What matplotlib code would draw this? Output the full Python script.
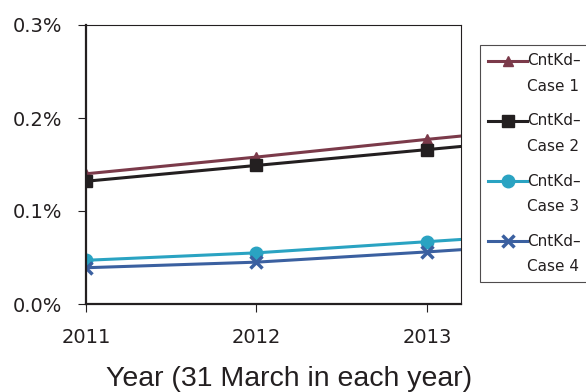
import matplotlib
matplotlib.use("Agg")
import matplotlib.pyplot as plt
import numpy as np
from matplotlib.legend_handler import HandlerLine2D

# Years (31 March) and the four CntKd cases, in percent
years = [2011, 2012, 2013, 2014]
case1 = [0.140, 0.158, 0.177, 0.195]
case2 = [0.132, 0.149, 0.166, 0.183]
case3 = [0.047, 0.055, 0.067, 0.079]
case4 = [0.039, 0.045, 0.056, 0.068]
labels = ["CntKd–\nCase 1", "CntKd–\nCase 2", "CntKd–\nCase 3", "CntKd–\nCase 4"]

ink = "#231F20"


class TopLine(HandlerLine2D):
    # put the legend line level with the first line of a two-line label
    def __init__(self, lift, **kw):
        super().__init__(**kw)
        self.lift = lift

    def create_artists(self, legend, orig_handle, xdescent, ydescent,
                       width, height, fontsize, trans):
        arts = super().create_artists(legend, orig_handle, xdescent, ydescent,
                                      width, height, fontsize, trans)
        for a in arts:
            a.set_ydata(np.asarray(a.get_ydata()) + self.lift)
        return arts


fig = plt.figure(figsize=(5.86, 3.92), dpi=100)
ax = fig.add_axes([86 / 586, 1 - 304 / 392, 375 / 586, 279 / 392])

l1, = ax.plot(years, case1, color="#7B3A4A", lw=2.2, marker="^", ms=7)
l2, = ax.plot(years, case2, color=ink, lw=2.2, marker="s", ms=9)
l3, = ax.plot(years, case3, color="#2AA3C2", lw=2.2, marker="o", ms=9)
l4, = ax.plot(years, case4, color="#3B60A0", lw=2.2, marker="x", ms=9, mew=2.5)

ax.set_xlim(2011, 2013.2)
ax.set_ylim(0, 0.3)
ax.set_xticks([2011, 2012, 2013])
ax.set_xticklabels(["2011", "2012", "2013"])
ax.set_yticks([0, 0.1, 0.2, 0.3])
ax.set_yticklabels(["0.0%", "0.1%", "0.2%", "0.3%"])
ax.tick_params(direction="out", length=6, width=0.8, color=ink,
               labelsize=14, labelcolor=ink)
ax.tick_params(axis="y", pad=11)
ax.tick_params(axis="x", pad=11)

for side in ["left", "bottom"]:
    ax.spines[side].set_linewidth(1.6)
    ax.spines[side].set_color(ink)
for side in ["top", "right"]:
    ax.spines[side].set_linewidth(0.8)
    ax.spines[side].set_color(ink)

fig.text(289 / 586, 1 - 379 / 392, "Year (31 March in each year)",
         ha="center", va="center", fontsize=20.5, family="Liberation Sans",
         color=ink)

hmap = {h: TopLine(9.5) for h in [l1, l2, l3, l4]}
leg = fig.legend([l1, l2, l3, l4], labels, loc="upper left",
                 bbox_to_anchor=(480 / 586, 1 - 45 / 392),
                 fontsize=11, frameon=True, fancybox=False,
                 edgecolor=ink, handlelength=2.5, handletextpad=0.05,
                 borderpad=0.55, borderaxespad=0, labelspacing=1.3,
                 handler_map=hmap)
leg.get_frame().set_linewidth(0.8)
for t in leg.get_texts():
    t.set_linespacing(1.85)
    t.set_color(ink)

fig.savefig("out.png", dpi=100)
